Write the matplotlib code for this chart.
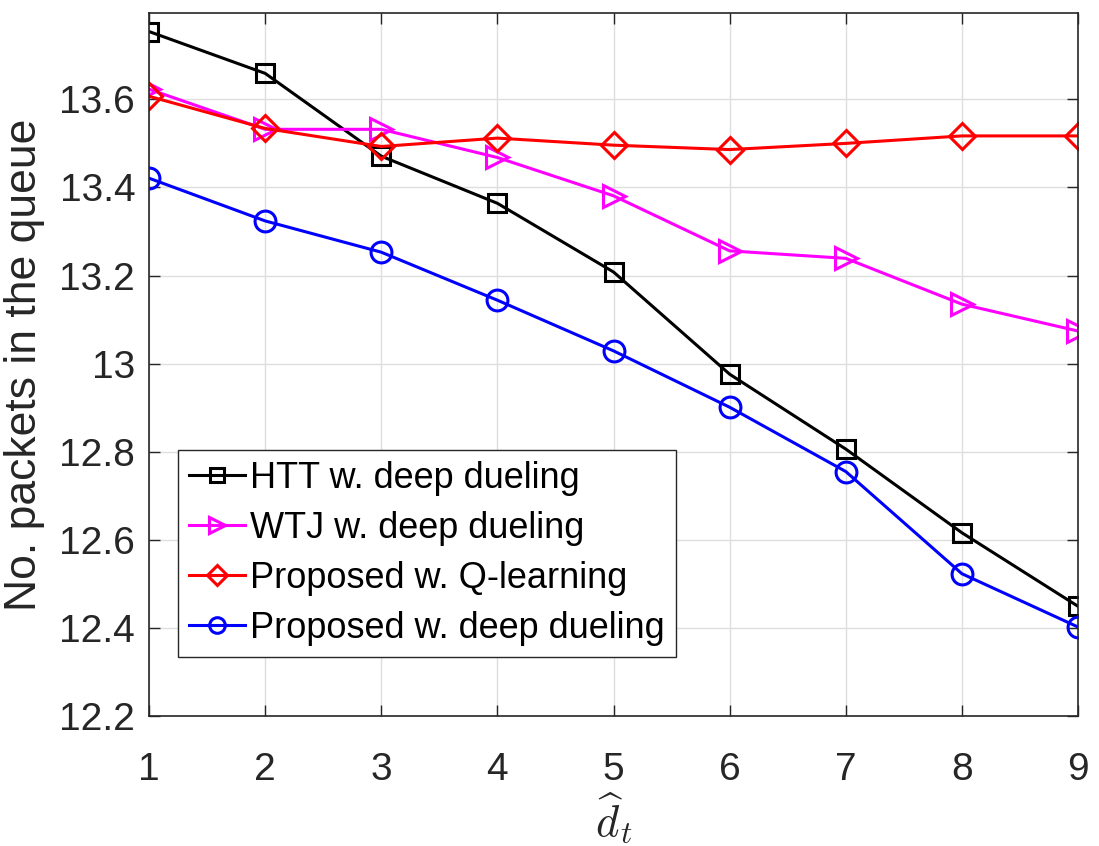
import matplotlib.pyplot as plt
import numpy as np

plt.rcParams["font.family"] = ["Liberation Sans", "DejaVu Sans"]
plt.rcParams["mathtext.fontset"] = "cm"

d_hat = [1, 2, 3, 4, 5, 6, 7, 8, 9]
htt_deep = [13.754, 13.659, 13.471, 13.364, 13.208, 12.976, 12.806, 12.616, 12.449]
wtj_deep = [13.623, 13.532, 13.532, 13.468, 13.381, 13.256, 13.239, 13.135, 13.074]
prop_q = [13.607, 13.534, 13.493, 13.512, 13.496, 13.486, 13.500, 13.517, 13.517]
prop_deep = [13.421, 13.324, 13.253, 13.144, 13.029, 12.901, 12.755, 12.523, 12.402]

oznake = [
    "HTT w. deep dueling",
    "WTJ w. deep dueling",
    "Proposed w. Q-learning",
    "Proposed w. deep dueling",
]
y_ticks = [12.2, 12.4, 12.6, 12.8, 13.0, 13.2, 13.4, 13.6]
y_labels = ["12.2", "12.4", "12.6", "12.8", "13", "13.2", "13.4", "13.6"]

fig = plt.figure(figsize=(10.99, 8.46), dpi=100)
ax = fig.add_axes([0.1356, 0.1537, 0.8453, 0.8309])

slog = dict(linewidth=2.2, markerfacecolor="none", markeredgewidth=2.2)
ax.plot(d_hat, htt_deep, color="black", marker="s", markersize=13, label=oznake[0], **slog)
ax.plot(d_hat, wtj_deep, color="#ff00ff", marker=">", markersize=16, label=oznake[1], **slog)
ax.plot(d_hat, prop_q, color="red", marker="D", markersize=13, label=oznake[2], **slog)
ax.plot(d_hat, prop_deep, color="blue", marker="o", markersize=15, label=oznake[3], **slog)

ax.set_xlim(1, 9)
ax.set_ylim(12.2, 13.796)
ax.set_xticks(d_hat)
ax.set_yticks(y_ticks)
ax.set_yticklabels(y_labels)
ax.grid(True, color="#dedede", linewidth=1.0)
ax.tick_params(direction="in", top=True, right=True, labelsize=28,
               labelcolor="#262626", color="#262626", length=8, width=1)
ax.tick_params(axis="y", pad=10)
ax.tick_params(axis="x", pad=26)
for sp in ax.spines.values():
    sp.set_color("#262626")
    sp.set_linewidth(1.2)

ax.set_ylabel("No. packets in the queue", fontsize=32, color="#262626", labelpad=10)
ax.set_xlabel(r"$\widehat{d}_t$", fontsize=32, color="#262626", labelpad=2)

leg = ax.legend(loc="lower left", bbox_to_anchor=(0.031, 0.084), fontsize=26,
                handlelength=1.55, handletextpad=0.15, labelspacing=0.42,
                borderpad=0.3, borderaxespad=0, fancybox=False, markerscale=0.75,
                edgecolor="#262626", framealpha=1)
leg.get_frame().set_linewidth(1.0)

fig.savefig("out.png", dpi=100)
